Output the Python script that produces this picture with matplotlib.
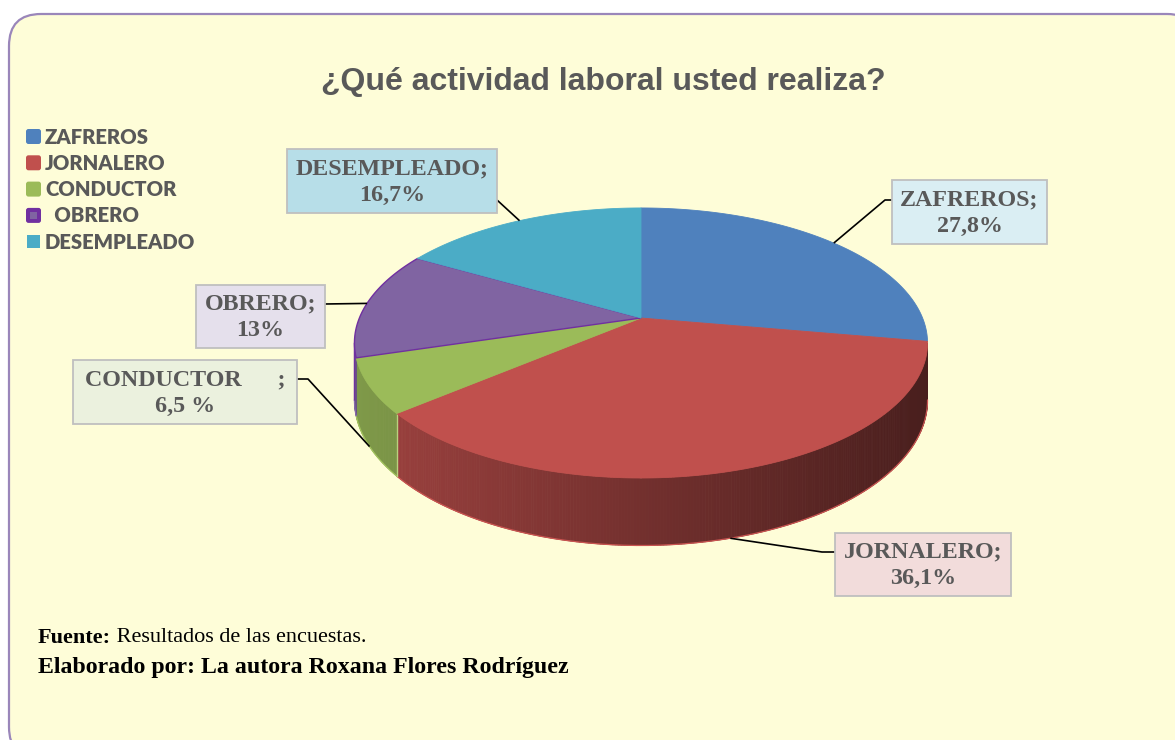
import numpy as np
import matplotlib
matplotlib.use("Agg")
import matplotlib.pyplot as plt
from matplotlib.patches import Polygon, Rectangle, FancyBboxPatch
from matplotlib.colors import to_rgb

# ---------------- data ----------------
categories = ["ZAFREROS", "JORNALERO", "CONDUCTOR", "OBRERO", "DESEMPLEADO"]
values = [27.8, 36.1, 6.5, 13.0, 16.7]
value_labels = ["27,8%", "36,1%", "6,5 %", "13%", "16,7%"]
label_names = ["ZAFREROS;", "JORNALERO;", "CONDUCTOR      ;", "OBRERO;", "DESEMPLEADO;"]
legend_labels = ["ZAFREROS", "JORNALERO", "CONDUCTOR", "  OBRERO", "DESEMPLEADO"]
colors = ["#4F81BD", "#C0504D", "#9BBB59", "#8064A2", "#4BACC6"]
box_colors = ["#DAEEF3", "#F2DCDB", "#EBF1DE", "#E5E0EC", "#B7DEE8"]
title = "¿Qué actividad laboral usted realiza?"
footer_bold = "Fuente:"
footer_regular = " Resultados de las encuestas."
footer_line2 = "Elaborado por: La autora Roxana Flores Rodríguez"

# ---------------- figure ----------------
W, H = 1175, 740
fig = plt.figure(figsize=(W / 100, H / 100), dpi=100)
fig.patch.set_facecolor("white")
ax = fig.add_axes([0, 0, 1, 1])
ax.set_xlim(0, W)
ax.set_ylim(H, 0)
ax.axis("off")

TXT = "#595959"

# background rounded panel
ax.add_patch(FancyBboxPatch((9, 14), 1190, 745,
                            boxstyle="round,pad=0,rounding_size=32",
                            facecolor="#FEFDD8", edgecolor="#9A86BA", lw=1.6,
                            zorder=0))

# ---------------- 3D pie geometry ----------------
CX, CY = 641, 318     # projected pie centre
A, B, K = 281.6, 130.4, 0.185   # perspective parameters
D0 = 55               # thickness


def proj(theta, rho=1.0):
    s = 1 + K * rho * np.sin(theta)
    return CX + A * rho * np.cos(theta) / s, CY - B * rho * np.sin(theta) / s


def depth(theta):
    return D0 / (1 + K * np.sin(theta))


total = float(sum(values))
cum = np.concatenate([[0], np.cumsum(values)]) / total
t_start = np.pi / 2 - 2 * np.pi * cum[:-1]
t_end = np.pi / 2 - 2 * np.pi * cum[1:]

vis_hi = -np.arcsin(K)
vis_lo = -np.pi + np.arcsin(K)


def shade(x):
    return float(np.clip(0.82 - 0.44 * (x - 356) / 571, 0.3, 0.9))


# side faces
for i in range(len(values)):
    lo = max(t_end[i], vis_lo)
    hi = min(t_start[i], vis_hi)
    if hi <= lo:
        continue
    n = max(2, int(np.degrees(hi - lo) * 2))
    ts = np.linspace(hi, lo, n + 1)
    base = np.array(to_rgb(colors[i]))
    for t0, t1 in zip(ts[:-1], ts[1:]):
        x0, y0 = proj(t0)
        x1, y1 = proj(t1)
        quad = [(x0, y0), (x1, y1), (x1, y1 + depth(t1)), (x0, y0 + depth(t0))]
        c = np.clip(base * shade((x0 + x1) / 2), 0, 1)
        ax.add_patch(Polygon(quad, closed=True, facecolor=c, edgecolor=c,
                             lw=0.6, zorder=2))
    xb, yb = proj(ts)
    ax.plot(xb, yb + depth(ts), color=np.clip(base * 1.05, 0, 1), lw=0.9,
            zorder=2.5, solid_capstyle="round")
    if i == 3:
        ax.plot([xb[0], xb[-1], xb[-1]], [yb[0], yb[-1], yb[-1] + depth(ts[-1])],
                color="#7030A0", lw=1.0, zorder=2.6)
    if i == 2:
        ax.plot([xb[0], xb[0]], [yb[0], yb[0] + depth(ts[0])],
                color="#B8D27E", lw=1.0, zorder=2.6)

# top faces
for i in range(len(values)):
    ts = np.linspace(t_start[i], t_end[i], 200)
    xs, ys = proj(ts)
    pts = [(CX, CY)] + list(zip(xs, ys))
    ec = "#7030A0" if i == 3 else colors[i]
    ax.add_patch(Polygon(pts, closed=True, facecolor=colors[i], edgecolor=ec,
                         lw=1.0 if i == 3 else 0.6, zorder=3, joinstyle="round"))

# ---------------- data labels ----------------
# label box (left, top, right, bottom) in pixel layout
boxes = [(892, 180, 1047, 244),
         (835, 533, 1011, 596),
         (73, 360, 297, 424),
         (196, 285, 325, 348),
         (287, 149, 497, 213)]

mid = (t_start + t_end) / 2
anchors = []
for i in range(len(values)):
    x, y = proj(mid[i])
    if np.sin(mid[i]) < -np.sin(0.3):  # front rim, attach to bottom edge
        y = y + depth(mid[i])
    anchors.append((x, y))

# leader line routes (from box side)
leader_starts = [[(892, 200), (885, 200)],
                 [(835, 552), (822, 552)],
                 [(297, 379), (308, 379)],
                 [(325, 304)],
                 [(497, 200)]]

for i in range(len(values)):
    l, t, r, b = boxes[i]
    ax.add_patch(Rectangle((l, t), r - l, b - t, facecolor=box_colors[i],
                           edgecolor="#BFBFBF", lw=1.3, zorder=5))
    ax.text((l + r) / 2, (t + b) / 2 + 1, label_names[i] + "\n" + value_labels[i],
            ha="center", va="center", multialignment="center",
            fontfamily="Liberation Serif", fontweight="bold", fontsize=17.3,
            color=TXT, linespacing=1.32, zorder=6)
    pts = leader_starts[i] + [anchors[i]]
    ax.plot([p[0] for p in pts], [p[1] for p in pts], color="black", lw=1.2,
            zorder=4, solid_capstyle="butt")

# ---------------- title ----------------
ax.text(603, 82, title, ha="center", va="center", fontfamily="Liberation Sans",
        fontweight="bold", fontsize=23, color=TXT, zorder=6)

# ---------------- legend ----------------
for i, lab in enumerate(legend_labels):
    y = 136.5 + i * 26.3
    if i == 4:
        ax.add_patch(Rectangle((27, y - 6.5), 13, 13, facecolor=colors[i],
                               edgecolor="none", zorder=5))
    else:
        outer = "#7030A0" if i == 3 else colors[i]
        ax.add_patch(FancyBboxPatch((26, y - 7.5), 15, 15,
                                    boxstyle="round,pad=0,rounding_size=2.5",
                                    facecolor=outer, edgecolor="none", zorder=5))
        if i == 3:
            ax.add_patch(Rectangle((30, y - 3.5), 7, 7, facecolor=colors[i],
                                   edgecolor="none", zorder=6))
    ax.text(45, y + 0.5, lab, ha="left", va="center", fontfamily="Lato",
            fontweight="heavy", fontsize=14.6, color=TXT, zorder=6)

# ---------------- footer ----------------
t1 = ax.text(38, 638, footer_bold, ha="left", va="center",
             fontfamily="Liberation Serif", fontweight="bold", fontsize=16,
             color="black", zorder=6)
fig.canvas.draw()
bb = t1.get_window_extent(renderer=fig.canvas.get_renderer())
ax.text(38 + bb.width, 638, footer_regular, ha="left", va="center",
        fontfamily="Liberation Serif", fontsize=16, color="black", zorder=6)
ax.text(38, 668, footer_line2, ha="left", va="center",
        fontfamily="Liberation Serif", fontweight="bold", fontsize=17.2,
        color="black", zorder=6)

fig.savefig("out.png", dpi=100)
